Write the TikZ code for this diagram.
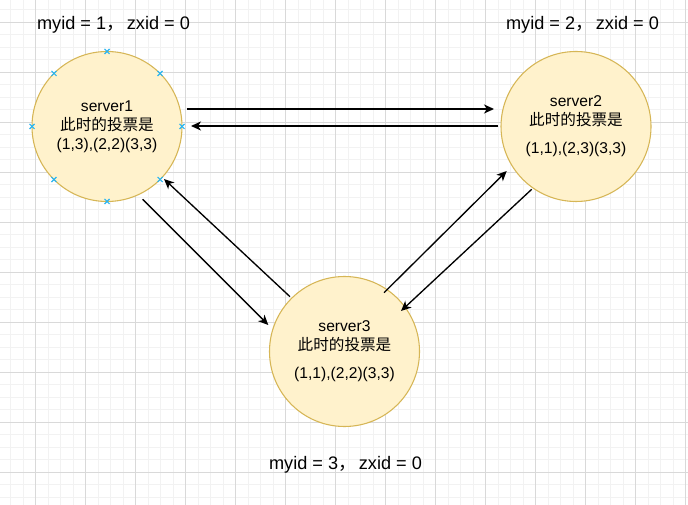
\documentclass[tikz,border=0pt]{standalone}
\usepackage{fontspec}
\setmainfont{Liberation Sans}
\newfontfamily\cjk{Noto Sans CJK SC}
\usetikzlibrary{arrows.meta,calc}
\definecolor{gridmajor}{HTML}{D9D9D9}
\definecolor{gridminor}{HTML}{F2F2F2}
\definecolor{nodefill}{HTML}{FFF2CC}
\definecolor{nodedraw}{HTML}{D6B656}
\definecolor{markblue}{HTML}{29B6F2}
\tikzset{
  server/.style={circle, draw=nodedraw, fill=nodefill, line width=0.8pt,
    minimum size=112.5pt, inner sep=0pt, outer sep=0pt, align=center,
    font=\fontsize{11.7}{14.25}\selectfont},
  idlabel/.style={inner sep=0pt, font=\fontsize{13.6}{16}\selectfont},
  arr/.style={line width=1pt, -{Stealth[length=7.5pt,width=6.8pt,inset=2.2pt]}},
  cpmark/.style={draw=markblue, line width=0.8pt}
}
\begin{document}
\begin{tikzpicture}[x=0.75pt,y=-0.75pt]
\useasboundingbox (0,0) rectangle (688,505);
\fill[white] (0,0) rectangle (688,505);
% grid
\foreach \i in {0,...,55} {
  \draw[gridminor, line width=0.75pt] ({10.7+12.5*\i},0) -- ({10.7+12.5*\i},505);
}
\foreach \i in {0,...,40} {
  \draw[gridminor, line width=0.75pt] (0,{9.8+12.5*\i}) -- (688,{9.8+12.5*\i});
}
\foreach \i in {0,...,13} {
  \draw[gridmajor, line width=0.75pt] ({35.7+50*\i},0) -- ({35.7+50*\i},505);
}
\foreach \i in {0,...,10} {
  \draw[gridmajor, line width=0.75pt] (0,{22.3+50*\i}) -- (688,{22.3+50*\i});
}
% servers
\node[server] (s1) at (107,126.5) {server1\\{\cjk 此时的投票是}\\(1,3),(2,2)(3,3)};
\node[server] (s2) at (576,126.5) {server2\\{\cjk 此时的投票是}\\[7pt](1,1),(2,3)(3,3)};
\node[server] (s3) at (344.5,351.5) {server3\\{\cjk 此时的投票是}\\[7pt](1,1),(2,2)(3,3)};
% labels
\node[idlabel] (l1) at (113.5,25) {myid = 1{\cjk ，}\hspace{2pt}zxid = 0};
\node[idlabel] (l2) at (582.5,25) {myid = 2{\cjk ，}\hspace{2pt}zxid = 0};
\node[idlabel] (l3) at (345.5,465) {myid = 3{\cjk ，}\hspace{2pt}zxid = 0};
% connectors
\draw[arr] ($(s1.center)+(79.7,-17.5)$) -- ($(s2.center)+(-82,-17.5)$);
\draw[arr] ($(s2.center)+(-77.7,-0.5)$) -- ($(s1.center)+(84,-0.5)$);
\draw[arr] ($(s3.center)+(-54.5,-54.8)$) -- ($(s1.center)+(57,52.5)$);
\draw[arr] ($(s1.center)+(35.7,72.8)$) -- ($(s3.center)+(-76.2,-26.5)$);
\draw[arr] ($(s3.center)+(39.5,-58.8)$) -- ($(s2.center)+(-69.3,44.5)$);
\draw[arr] ($(s2.center)+(-44.3,62.8)$) -- ($(s3.center)+(56.5,-40.5)$);
% connection point marks on server1
\foreach \a in {0,45,...,315} {
  \draw[cpmark] ($(s1.\a)+(-2.5,-2.5)$) -- ($(s1.\a)+(2.5,2.5)$);
  \draw[cpmark] ($(s1.\a)+(-2.5,2.5)$) -- ($(s1.\a)+(2.5,-2.5)$);
}
\end{tikzpicture}
\end{document}
